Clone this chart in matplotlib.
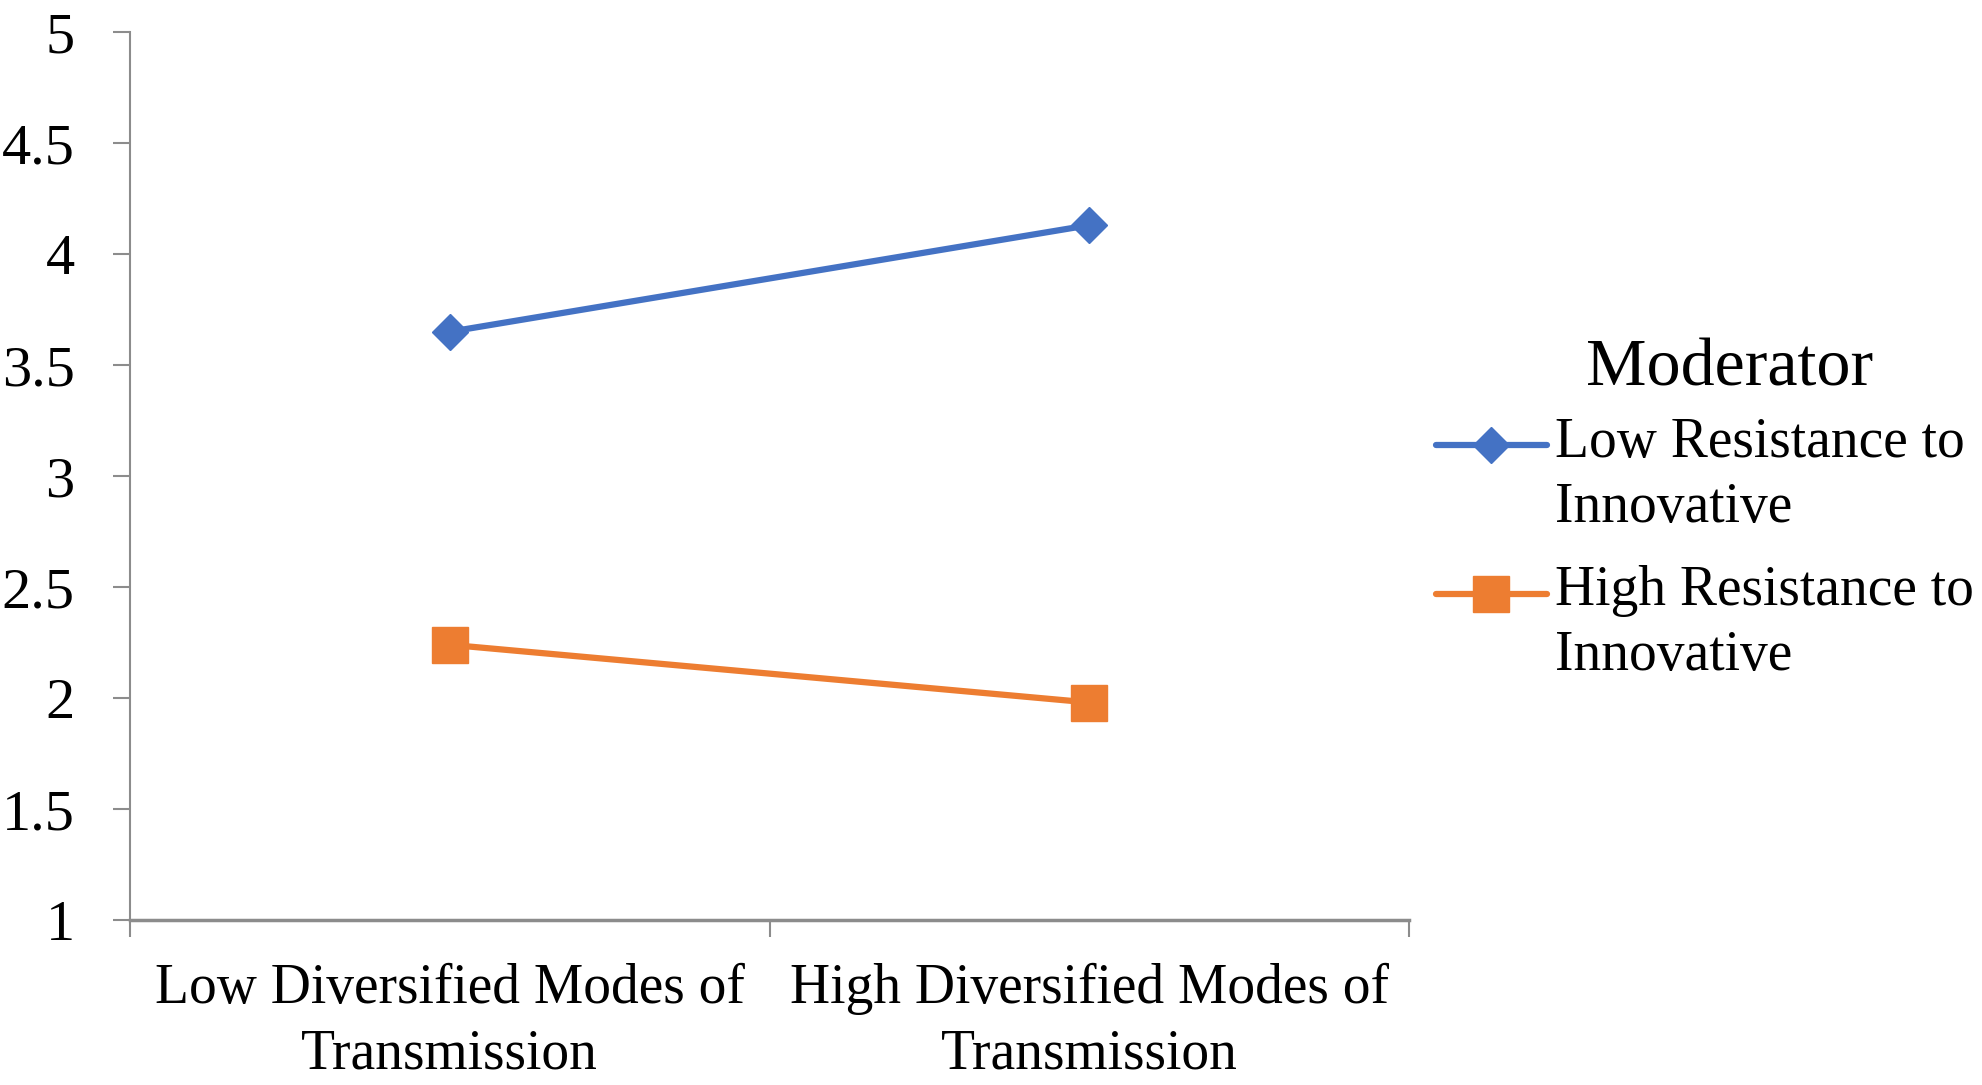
import numpy as np
import matplotlib.pyplot as plt
from matplotlib.ticker import FixedLocator, NullFormatter
from matplotlib.legend_handler import HandlerLine2D

categories = ["Low Diversified Modes of\nTransmission", "High Diversified Modes of\nTransmission"]
low_resistance = [3.65, 4.13]
high_resistance = [2.24, 1.98]
series_names = ["Low Resistance to\nInnovative", "High Resistance to\nInnovative"]
yticks = [1, 1.5, 2, 2.5, 3, 3.5, 4, 4.5, 5]
ytick_labels = ["1", "1.5", "2", "2.5", "3", "3.5", "4", "4.5", "5"]

plt.rcParams['font.family'] = ['Liberation Serif', 'DejaVu Serif']
axis_gray = "#8c8c8c"


class FirstLineHandler(HandlerLine2D):
    # lift the legend line so it sits next to the first text line
    def __init__(self, shift, **kw):
        super().__init__(**kw)
        self.shift = shift

    def create_artists(self, legend, orig_handle, xdescent, ydescent,
                       width, height, fontsize, trans):
        arts = super().create_artists(legend, orig_handle, xdescent, ydescent,
                                      width, height, fontsize, trans)
        for a in arts:
            a.set_ydata(np.asarray(a.get_ydata()) + self.shift)
        return arts


fig = plt.figure(figsize=(19.83, 10.85), dpi=100)
ax = fig.add_axes([0.0656, 0.152, 0.645, 0.8185])

x = list(range(len(categories)))
l1, = ax.plot(x, low_resistance, color="#4472C4", lw=4.5, marker="D", ms=18,
              label=series_names[0], solid_capstyle="round")
l2, = ax.plot(x, high_resistance, color="#ED7D31", lw=4.5, marker="s", ms=26,
              label=series_names[1], solid_capstyle="round")

ax.set_ylim(1, 5)
ax.set_xlim(-0.5, len(categories) - 0.5)
ax.set_yticks(yticks)
ax.set_yticklabels(ytick_labels)

# excel style: tick marks between categories, labels centred
ax.xaxis.set_major_locator(FixedLocator([-0.5, 0.5, 1.5]))
ax.xaxis.set_major_formatter(NullFormatter())
ax.set_xticks(x, minor=True)
ax.set_xticklabels(categories, minor=True, fontsize=40, linespacing=1.33)
ax.tick_params(axis="x", which="minor", length=0, pad=31)
ax.tick_params(axis="x", which="major", length=12, width=1.5, color=axis_gray, direction="out")
ax.tick_params(axis="y", length=12, width=1.5, color=axis_gray, labelsize=42, pad=28)

for s in ["top", "right"]:
    ax.spines[s].set_visible(False)
ax.spines["left"].set_color(axis_gray)
ax.spines["bottom"].set_color(axis_gray)
ax.spines["left"].set_linewidth(1.5)
ax.spines["bottom"].set_linewidth(2.5)

shift = 22
leg = fig.legend(handles=[l1, l2], loc="upper left", bbox_to_anchor=(0.724, 0.616),
                 frameon=False, fontsize=40,
                 handlelength=2.0, handletextpad=0.15, labelspacing=0.56,
                 borderpad=0, borderaxespad=0,
                 handler_map={l1: FirstLineHandler(shift), l2: FirstLineHandler(shift)})
for t in leg.get_texts():
    t.set_linespacing(1.33)

fig.text(0.872, 0.66, "Moderator", fontsize=49, ha="center", va="center")

fig.savefig("out.png", dpi=100)
